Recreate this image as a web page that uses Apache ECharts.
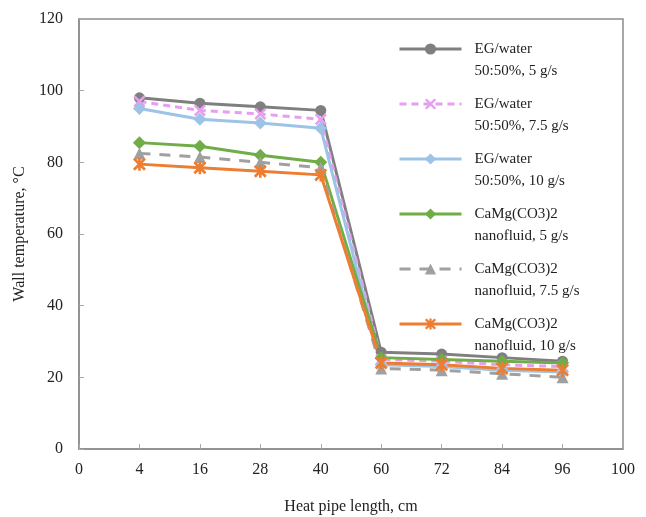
<!DOCTYPE html>
<html>
<head>
<meta charset="utf-8">
<script src="https://cdn.jsdelivr.net/npm/echarts@6/dist/echarts.min.js"></script>
<style>
html, body { margin: 0; padding: 0; background: #fff; }
#chart { width: 646px; height: 517px; }
</style>
</head>
<body>
<div id="chart"></div>
<script>
// x categories (heat pipe length, cm); 0 and 100 carry no data
var lengths = ['0', '4', '16', '28', '40', '60', '72', '84', '96', '100'];

var egWater5 = [98, 96.5, 95.5, 94.5, 27, 26.5, 25.5, 24.5];
var egWater75 = [97, 94.5, 93.5, 92, 25, 24.5, 23.5, 23];
var egWater10 = [95, 92, 91, 89.5, 23.5, 23, 22, 21.5];
var nano5 = [85.5, 84.5, 82, 80, 25.5, 25, 24.5, 24];
var nano75 = [82.5, 81.5, 80, 78.5, 22.5, 22, 21, 20];
var nano10 = [79.5, 78.5, 77.5, 76.5, 24, 23.5, 22.5, 22];

var names = [
	'EG/water\n50:50%, 5 g/s',
	'EG/water\n50:50%, 7.5 g/s',
	'EG/water\n50:50%, 10 g/s',
	'CaMg(CO3)2\nnanofluid, 5 g/s',
	'CaMg(CO3)2\nnanofluid, 7.5 g/s',
	'CaMg(CO3)2\nnanofluid, 10 g/s'
];

var xMark = 'path://M0,1.5L1.5,0L5,3.5L8.5,0L10,1.5L6.5,5L10,8.5L8.5,10L5,6.5L1.5,10L0,8.5L3.5,5Z';
var starMark = 'path://M0,1.5L1.5,0L5,3.5L8.5,0L10,1.5L6.5,5L10,8.5L8.5,10L5,6.5L1.5,10L0,8.5L3.5,5Z M4,0L6,0L6,10L4,10Z';

function pad(vals) {
	return [null].concat(vals).concat([null]);
}

function mkSeries(name, vals, color, symbol, size, dash) {
	return {
		name: name,
		type: 'line',
		data: pad(vals),
		symbol: symbol,
		symbolSize: size,
		showSymbol: true,
		color: color,
		lineStyle: { width: 3, color: color, type: dash || 'solid' },
		itemStyle: { color: color },
		animation: false
	};
}

var font = 'Liberation Serif';
var myChart = echarts.init(document.getElementById('chart'));
myChart.setOption({
	backgroundColor: '#fff',
	grid: {
		left: 79, right: 23, top: 19, bottom: 68,
		outerBoundsMode: 'none',
		show: true, borderColor: '#8c8c8c', borderWidth: 1.5
	},
	legend: {
		orient: 'vertical',
		left: 398,
		top: 16,
		padding: 0,
		itemGap: -11,
		itemWidth: 62,
		itemHeight: 14,
		lineStyle: { width: 3 },
		// blank first line so the icon sits beside the first text line
		formatter: function(name) { return '\n' + name; },
		textStyle: {
			fontFamily: font, fontSize: 15, color: '#222',
			lineHeight: 22, padding: [0, 0, 0, 8]
		},
		data: names
	},
	xAxis: {
		type: 'category',
		data: lengths,
		boundaryGap: false,
		name: 'Heat pipe length, cm',
		nameLocation: 'middle',
		nameGap: 50,
		nameTextStyle: { fontFamily: font, fontSize: 16, color: '#222' },
		axisLine: { lineStyle: { color: '#8c8c8c', width: 1.5 } },
		axisTick: { inside: true, length: 5, lineStyle: { color: '#aaa' } },
		axisLabel: { fontFamily: font, fontSize: 16, color: '#222', margin: 13 },
		splitLine: { show: false }
	},
	yAxis: {
		type: 'value',
		min: 0, max: 120, interval: 20,
		name: 'Wall temperature, °C',
		nameLocation: 'middle',
		nameGap: 44,
		nameTextStyle: { fontFamily: font, fontSize: 16, color: '#222' },
		axisLine: { show: true, lineStyle: { color: '#8c8c8c', width: 1.5 } },
		axisTick: { show: true, inside: true, length: 5, lineStyle: { color: '#aaa' } },
		axisLabel: { fontFamily: font, fontSize: 16, color: '#222', margin: 16 },
		splitLine: { show: false }
	},
	series: [
		mkSeries(names[0], egWater5, '#7f7f7f', 'circle', 11),
		mkSeries(names[1], egWater75, '#e89ef0', xMark, 12, [7, 5]),
		mkSeries(names[2], egWater10, '#9dc3e6', 'diamond', 13),
		mkSeries(names[3], nano5, '#70ad47', 'diamond', 13),
		mkSeries(names[4], nano75, '#a0a0a0', 'triangle', 12, [11, 9]),
		mkSeries(names[5], nano10, '#ed7d31', starMark, 13)
	]
});
</script>
</body>
</html>
